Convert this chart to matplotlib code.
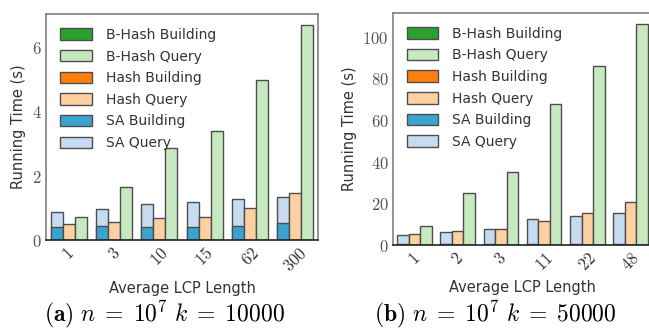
import matplotlib
matplotlib.use("Agg")
import matplotlib.pyplot as plt
import numpy as np

plt.rcParams['mathtext.fontset'] = 'cm'
plt.rcParams['font.family'] = 'DejaVu Sans'

# panel (a): n = 10^7, k = 10000
lcp_a = ["1", "3", "10", "15", "62", "300"]
sa_build_a = [0.41, 0.43, 0.41, 0.39, 0.43, 0.52]
sa_query_a = [0.88, 0.96, 1.12, 1.17, 1.26, 1.35]
hash_build_a = [0.01, 0.01, 0.01, 0.01, 0.01, 0.01]
hash_query_a = [0.49, 0.57, 0.67, 0.70, 0.98, 1.47]
bhash_build_a = [0.01, 0.01, 0.01, 0.01, 0.01, 0.01]
bhash_query_a = [0.70, 1.64, 2.86, 3.37, 4.96, 6.68]

# panel (b): n = 10^7, k = 50000
lcp_b = ["1", "2", "3", "11", "22", "48"]
sa_build_b = [0.4, 0.4, 0.4, 0.4, 0.4, 0.4]
sa_query_b = [4.6, 6.4, 7.7, 12.3, 13.8, 15.2]
hash_build_b = [0.1, 0.1, 0.1, 0.1, 0.1, 0.1]
hash_query_b = [5.1, 6.7, 7.5, 11.7, 15.2, 20.5]
bhash_build_b = [0.1, 0.1, 0.1, 0.1, 0.1, 0.1]
bhash_query_b = [9.1, 25.1, 34.9, 67.5, 85.8, 106.1]

c_bb, c_bq = '#2ca02c', '#c7e9c0'
c_hb, c_hq = '#ff7f0e', '#fdd0a2'
c_sb, c_sq = '#3ba3d0', '#c6dbef'
edge = '#4d4d4d'


def panel(ax, labels, sb, sq, hb, hq, bb, bq):
    x = np.arange(len(labels))
    w = 0.8 / 3
    kw = dict(width=w, edgecolor=edge, linewidth=1.0)
    # query bars show the total time; building part drawn over it
    ax.bar(x - w, sq, color=c_sq, label='SA Query', **kw)
    ax.bar(x - w, sb, color=c_sb, label='SA Building', **kw)
    ax.bar(x, hq, color=c_hq, label='Hash Query', **kw)
    ax.bar(x, hb, color=c_hb, label='Hash Building', **kw)
    ax.bar(x + w, bq, color=c_bq, label='B-Hash Query', **kw)
    ax.bar(x + w, bb, color=c_bb, label='B-Hash Building', **kw)
    ax.set_xlim(-0.5, len(labels) - 0.5)
    ax.set_ylim(0, max(bq) * 1.05)
    ax.set_xticks(x)
    ax.set_xticklabels(['$%s$' % s for s in labels], rotation=45, fontsize=12)
    ax.tick_params(axis='both', length=0, pad=3, colors='#333333')
    ax.yaxis.set_major_formatter(plt.FuncFormatter(lambda v, p: '$%d$' % v))
    ax.tick_params(axis='y', labelsize=12, labelcolor='#555555')
    for s in ax.spines.values():
        s.set_color('#808080')
        s.set_linewidth(1.2)
    ax.spines['bottom'].set_color('#222222')
    ax.set_xlabel('Average LCP Length', fontsize=10.5, color='#333333')
    ax.set_ylabel('Running Time (s)', fontsize=10.5, color='#333333')
    h, l = ax.get_legend_handles_labels()
    order = [5, 4, 3, 2, 1, 0]
    ax.legend([h[i] for i in order], [l[i] for i in order], loc='upper left',
              frameon=False, fontsize=10, handlelength=2.3, handleheight=0.9,
              labelspacing=0.55, handletextpad=1.0, borderaxespad=0.6,
              labelcolor='#333333')


fig = plt.figure(figsize=(6.49, 3.29), dpi=100)
ax1 = fig.add_axes([0.0709, 0.2705, 0.419, 0.687])
ax2 = fig.add_axes([0.605, 0.2553, 0.400, 0.706])

panel(ax1, lcp_a, sa_build_a, sa_query_a, hash_build_a, hash_query_a,
      bhash_build_a, bhash_query_a)
panel(ax2, lcp_b, sa_build_b, sa_query_b, hash_build_b, hash_query_b,
      bhash_build_b, bhash_query_b)
ax2.set_yticks([0, 20, 40, 60, 80, 100])

fig.text(0.253, 0.045, r'$\mathbf{(a)}\ n\;=\;10^7\ k\;=\;10000$', fontsize=17,
         ha='center', va='center')
fig.text(0.763, 0.045, r'$\mathbf{(b)}\ n\;=\;10^7\ k\;=\;50000$', fontsize=17,
         ha='center', va='center')

fig.savefig('out.png', dpi=100)
